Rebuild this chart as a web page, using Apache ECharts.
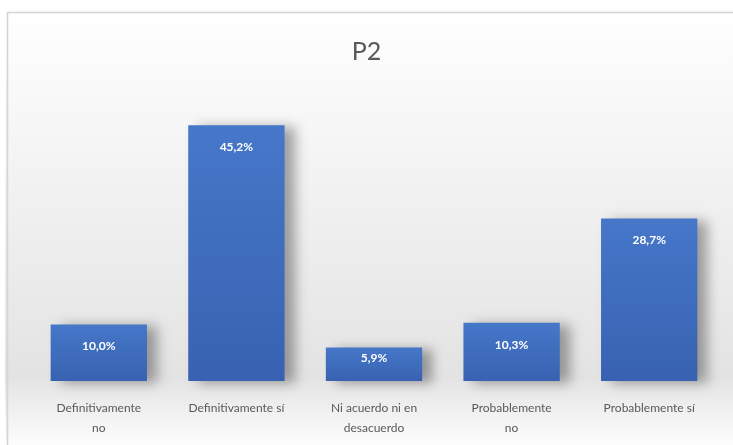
<!DOCTYPE html>
<html>
<head>
<meta charset="utf-8">
<script src="https://cdn.jsdelivr.net/npm/echarts@6/dist/echarts.min.js"></script>
<style>
  html, body { margin: 0; padding: 0; background: #fff; }
  #chart { width: 733px; height: 445px; }
</style>
</head>
<body>
<!-- P2 barras -->
<div id="chart"></div>
<script>
var categories = ['Definitivamente\nno', 'Definitivamente sí', 'Ni acuerdo ni en\ndesacuerdo', 'Probablemente\nno', 'Probablemente sí']
var values = [10.0, 45.2, 5.9, 10.3, 28.7]

var myChart = echarts.init(document.getElementById('chart'))

// la barra corta lleva la etiqueta más arriba
var seriesData = values.map(function (v) {
  var item = { value: v }
  if (v < 8) item.label = { distance: 5 }
  return item
})

var option = {
  backgroundColor: '#fff',
  title: {
    text: 'P2',
    left: 'center',
    top: 34,
    textStyle: { color: '#595959', fontSize: 25, fontWeight: 'normal', fontFamily: 'Lato' }
  },
  // fondo degradado y marco
  graphic: [
    {
      type: 'rect', z: -10, left: 5, top: 10,
      shape: { width: 740, height: 371 },
      style: {
        fill: new echarts.graphic.LinearGradient(0, 0, 0, 1, [
          { offset: 0, color: '#ffffff' },
          { offset: 1, color: '#e3e3e3' }
        ])
      }
    },
    {
      type: 'rect', z: -10, left: 5, top: 381,
      shape: { width: 740, height: 70 },
      style: {
        fill: new echarts.graphic.LinearGradient(0, 0, 0, 1, [
          { offset: 0, color: '#e5e5e5' },
          { offset: 1, color: '#ffffff' }
        ])
      }
    },
    {
      type: 'rect', z: 10, left: 5, top: 10,
      shape: { width: 740, height: 450 },
      style: { fill: 'none', stroke: '#d4d4d4', lineWidth: 1.5 }
    }
  ],
  grid: { left: 30, right: 15, top: 98, bottom: 64 },
  xAxis: {
    type: 'category',
    data: categories,
    axisLine: { show: false },
    axisTick: { show: false },
    axisLabel: {
      color: '#595959',
      fontSize: 12,
      fontFamily: 'Lato',
      lineHeight: 20,
      margin: 17,
      interval: 0
    }
  },
  yAxis: {
    type: 'value',
    min: 0,
    max: 50,
    show: false,
    splitLine: { show: false }
  },
  series: [{
    type: 'bar',
    data: seriesData,
    barWidth: '70%',
    itemStyle: {
      color: new echarts.graphic.LinearGradient(0, 0, 0, 1, [
        { offset: 0, color: '#4677c9' },
        { offset: 1, color: '#3862b1' }
      ]),
      shadowColor: 'rgba(0,0,0,0.35)',
      shadowBlur: 12,
      shadowOffsetX: 10,
      shadowOffsetY: 2
    },
    label: {
      show: true,
      position: 'insideTop',
      distance: 16,
      color: '#fff',
      fontSize: 12,
      fontWeight: 'bold',
      fontFamily: 'Lato',
      formatter: function (p) {
        return p.value.toFixed(1).replace('.', ',') + '%'
      }
    }
  }]
}
myChart.setOption(option)
</script>
</body>
</html>
